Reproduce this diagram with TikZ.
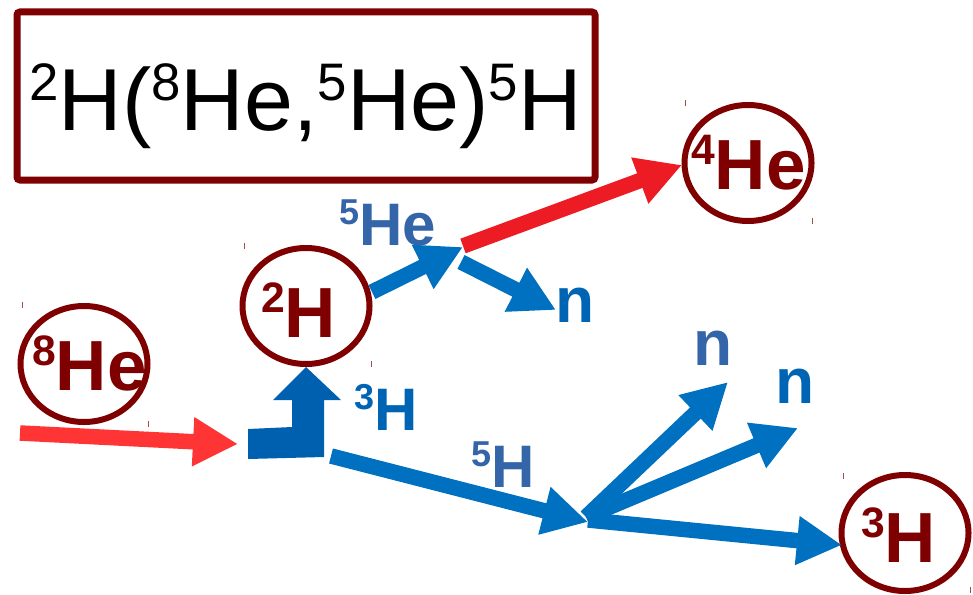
\documentclass[tikz,border=0pt]{standalone}
\usepackage{fontspec}
\setmainfont{Liberation Sans}
\usetikzlibrary{arrows.meta,shapes.geometric}
\definecolor{dred}{HTML}{7F0000}
\definecolor{redA}{HTML}{FF3535}
\definecolor{redB}{HTML}{ED1C24}
\definecolor{blueA}{HTML}{0070C0}
\definecolor{blueB}{HTML}{0060B0}
\definecolor{blueL}{HTML}{0064B4}
\definecolor{steel}{HTML}{3465A8}
\newcommand{\iso}[2]{\raisebox{0.34em}{\scalebox{0.6}{#1}}#2}
\tikzset{
  circ/.style={ellipse,draw=dred,line width=6pt,minimum width=127pt,minimum height=116pt,inner sep=0pt},
  clabel/.style={anchor=base west,inner sep=0pt,text=dred,font=\fontsize{71}{71}\selectfont\bfseries},
  blab/.style={anchor=base west,inner sep=0pt,font=\fontsize{60}{60}\selectfont\bfseries},
  nlab/.style={anchor=base west,inner sep=0pt,font=\fontsize{64}{64}\selectfont\bfseries},
  fat/.style={line width=15.5pt,-{Triangle[length=45pt,width=46pt]}},
  tick/.style={dred!70,line width=1pt},
}
\begin{document}
\begin{tikzpicture}[x=1pt,y=-1pt]
\useasboundingbox (0,0) rectangle (973,594);
% title box
\node[draw=dred,line width=7pt,rounded corners=3pt,minimum width=578pt,minimum height=168pt,inner sep=0pt] (box) at (306,96) {};
\node[anchor=base west,inner sep=0pt,font=\fontsize{88}{88}\selectfont] (title) at (29,130)
  {\iso{2}{H}(\iso{8}{He},\iso{5}{He})\iso{5}{H}};
% circles
\node[circ] (he8) at (84,364) {};
\node[circ] (h2) at (306,306) {};
\node[circ] (he4) at (748,163) {};
\node[circ] (h3) at (905,533) {};
\node[clabel] (he8t) at (32,390) {\iso{8}{He}};
\node[clabel] (h2t) at (261,337) {\iso{2}{H}};
\node[clabel] (he4t) at (691,189) {\iso{4}{He}};
\node[clabel] (h3t) at (861,562) {\iso{3}{H}};
% corner ticks
\foreach \x/\y in {22/305,148/424,244/246,371/364,685/103,812/221,843/476,970/590}
  \draw[tick] (\x,\y-3) -- (\x,\y+3);
% coordinates
\coordinate (s8) at (20,433);
\coordinate (t8) at (238,444);
\coordinate (s5H) at (331,456);
\coordinate (jH) at (588,522);
\coordinate (f0) at (586,517);
\coordinate (tn1) at (728,382);
\coordinate (tn2) at (798,428);
\coordinate (f3) at (588,520);
\coordinate (t3) at (842,545);
\coordinate (s2) at (372,292);
\coordinate (jHe) at (463,247);
\coordinate (sr) at (463,246);
\coordinate (t4) at (682,165);
\coordinate (sn) at (461,262);
\coordinate (tn) at (556,310);
% arrows
\draw[fat,redA] (s8) -- (t8);
\fill[blueB] (248,459) -- (248,429) -- (292,427) -- (292,400) -- (273,400) -- (306,367)
  -- (341,400) -- (324,400) -- (324,457) -- cycle;
\draw[fat,blueA] (s5H) -- (jH);
\draw[fat,blueA] (f0) -- (tn1);
\draw[fat,blueA] (f0) -- (tn2);
\draw[fat,blueA] (f3) -- (t3);
\draw[fat,blueA] (s2) -- (jHe);
\draw[fat,redB] (sr) -- (t4);
\draw[fat,blueA] (sn) -- (tn);
% labels
\node[blab,text=steel] (l5he) at (339,245) {\iso{5}{He}};
\node[nlab,text=blueL] (ln0) at (555,322) {n};
\node[blab,text=blueL] (l3h) at (354,430) {\iso{3}{H}};
\node[blab,text=steel] (l5h) at (471,487) {\iso{5}{H}};
\node[nlab,text=steel] (ln1) at (693,365) {n};
\node[nlab,text=blueL] (ln2) at (775,403) {n};
\end{tikzpicture}
\end{document}
